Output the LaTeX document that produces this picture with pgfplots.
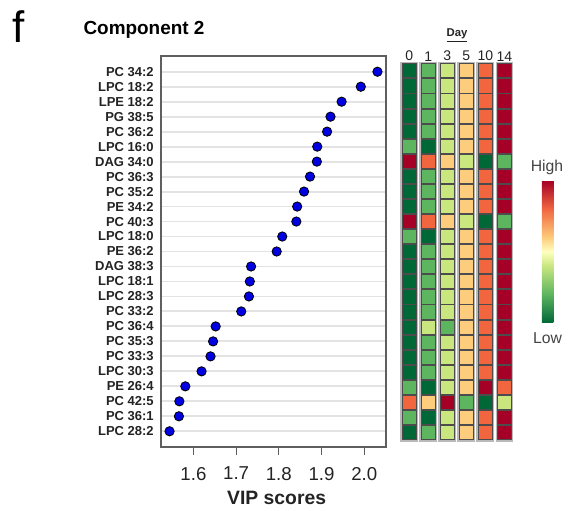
\documentclass[border=0pt]{standalone}
\usepackage{pgfplots}
\pgfplotsset{compat=1.18}
\usepackage{pgfplotstable}
\usepackage{fontspec}
\setmainfont{Liberation Sans}
\definecolor{framegray}{RGB}{95,95,95}
\definecolor{txt}{RGB}{35,35,35}
\definecolor{dotblue}{RGB}{0,0,225}

\pgfplotstableread{
y vip
1 2.031
2 1.992
3 1.947
4 1.921
5 1.913
6 1.890
7 1.889
8 1.873
9 1.859
10 1.843
11 1.841
12 1.808
13 1.795
14 1.735
15 1.732
16 1.730
17 1.712
18 1.652
19 1.646
20 1.640
21 1.619
22 1.581
23 1.567
24 1.566
25 1.544
}\vipdata

\pgfplotstableread{
row c0 c1 c2 c3 c4 c5
1 0 1 2 3 4 5
2 0 1 2 3 4 5
3 0 1 2 3 4 5
4 0 1 2 3 4 5
5 0 1 2 3 4 5
6 1 0 2 3 4 5
7 5 4 3 2 0 1
8 0 1 2 3 4 5
9 0 1 2 3 4 5
10 0 1 2 3 4 5
11 5 4 3 2 0 1
12 1 0 2 3 4 5
13 0 1 2 3 4 5
14 0 1 2 3 4 5
15 0 1 2 3 4 5
16 0 1 2 3 4 5
17 0 1 2 3 4 5
18 0 2 1 3 4 5
19 0 1 2 3 4 5
20 0 1 2 3 4 5
21 0 1 2 3 4 5
22 1 0 2 3 5 4
23 4 3 5 1 0 2
24 1 0 2 3 4 5
25 0 1 2 3 4 5
}\heat

\begin{document}
\begin{tikzpicture}
\path[use as bounding box] (0,0) rectangle (426.75pt,383.25pt);

% ---------------- VIP dot plot ----------------
\begin{axis}[
  at={(120.75pt,341.25pt)}, anchor=north west,
  scale only axis, width=168.75pt, height=293.25pt,
  xmin=1.524, xmax=2.051, ymin=-0.05, ymax=26.05, y dir=reverse,
  xtick={1.6,1.7,1.8,1.9,2.0},
  xticklabels={1.6,1.7,1.8,1.9,2.0},
  ytick={1,...,25},
  yticklabels={PC 34:2,LPC 18:2,LPE 18:2,PG 38:5,PC 36:2,LPC 16:0,DAG 34:0,PC 36:3,PC 35:2,PE 34:2,PC 40:3,LPC 18:0,PE 36:2,DAG 38:3,LPC 18:1,LPC 28:3,PC 33:2,PC 36:4,PC 35:3,PC 33:3,LPC 30:3,PE 26:4,PC 42:5,PC 36:1,LPC 28:2},
  xtick pos=lower, ytick pos=left, tick align=outside, major tick length=6pt,
  ytick style={draw=none},
  xtick style={draw=framegray, line width=0.9pt},
  axis line style={draw=framegray, line width=1pt},
  ymajorgrids, grid style={gray!22, line width=1.4pt},
  yticklabel style={font=\fontsize{9.75}{10}\selectfont\bfseries, text=txt, inner sep=0pt, xshift=0.75pt},
  xticklabel style={font=\fontsize{14}{15}\selectfont, text=txt, inner sep=0pt, yshift=-8.8pt},
  clip=false,
]
\addplot[only marks, mark=*, mark size=3.5pt,
  mark options={fill=dotblue, draw=black, line width=0.6pt}]
  table[x=vip, y=y]{\vipdata};
\end{axis}

% ---------------- heatmap ----------------
\begin{axis}[
  at={(299.8pt,335.8pt)}, anchor=north west,
  scale only axis, width=85.7pt, height=282.6pt,
  xmin=-0.5, xmax=5.5, ymin=0.5, ymax=25.5, y dir=reverse,
  axis line style={draw=none}, ytick=\empty,
  xtick={0,...,5}, xticklabels={0,1,3,5,10,14},
  xtick pos=upper, xticklabel pos=upper, major tick length=0pt,
  xtick style={draw=none},
  xticklabel style={font=\fontsize{10.5}{11}\selectfont, text=txt, inner sep=0pt, anchor=south, yshift=1.5pt},
  colormap={rdylgn}{rgb255(0cm)=(0,104,55); rgb255(1cm)=(93,181,96); rgb255(2cm)=(201,230,127); rgb255(2.5cm)=(255,255,191); rgb255(3cm)=(253,204,124); rgb255(4cm)=(241,102,63); rgb255(5cm)=(165,0,38)},
  point meta min=0, point meta max=5,
  colorbar,
  colorbar style={
    xshift=12.3pt, yshift=-88.05pt,
    scale only axis,
    width=8.7pt, height=106.5pt,
    ytick=\empty, xtick=\empty,
    axis line style={draw=none},
  },
  clip=false,
]
\pgfplotsinvokeforeach{0,...,5}{
  \draw[gray!55, line width=1.1pt] (axis cs:#1-0.433,0.45) rectangle (axis cs:#1+0.433,25.55);
}
\addplot[scatter, only marks, mark=square*, mark size=5.3pt, scatter src=explicit,
  scatter/use mapped color={draw=black!70, fill=mapped color}, mark options={line width=0.6pt}]
  table[x expr=0, y=row, meta=c0]{\heat};
\addplot[scatter, only marks, mark=square*, mark size=5.3pt, scatter src=explicit,
  scatter/use mapped color={draw=black!70, fill=mapped color}, mark options={line width=0.6pt}]
  table[x expr=1, y=row, meta=c1]{\heat};
\addplot[scatter, only marks, mark=square*, mark size=5.3pt, scatter src=explicit,
  scatter/use mapped color={draw=black!70, fill=mapped color}, mark options={line width=0.6pt}]
  table[x expr=2, y=row, meta=c2]{\heat};
\addplot[scatter, only marks, mark=square*, mark size=5.3pt, scatter src=explicit,
  scatter/use mapped color={draw=black!70, fill=mapped color}, mark options={line width=0.6pt}]
  table[x expr=3, y=row, meta=c3]{\heat};
\addplot[scatter, only marks, mark=square*, mark size=5.3pt, scatter src=explicit,
  scatter/use mapped color={draw=black!70, fill=mapped color}, mark options={line width=0.6pt}]
  table[x expr=4, y=row, meta=c4]{\heat};
\addplot[scatter, only marks, mark=square*, mark size=5.3pt, scatter src=explicit,
  scatter/use mapped color={draw=black!70, fill=mapped color}, mark options={line width=0.6pt}]
  table[x expr=5, y=row, meta=c5]{\heat};
\end{axis}

% ---------------- texts ----------------
\node[font=\fontsize{33}{36}\selectfont, text=black, inner sep=0pt] at (14.25pt,363pt) {f};
\node[font=\fontsize{14.2}{16}\selectfont\bfseries, text=black, anchor=base, inner sep=0pt] at (108pt,357pt) {Component 2};
\node[font=\fontsize{14.5}{16}\selectfont\bfseries, text=txt, anchor=base, inner sep=0pt] at (207.5pt,4.5pt) {VIP scores};
\node[font=\fontsize{8.5}{9}\selectfont\bfseries, text=txt, anchor=base, inner sep=0pt] at (342.75pt,355.5pt) {\underline{Day}};
\node[font=\fontsize{11.8}{13}\selectfont, text=txt!85, anchor=base, inner sep=0pt] at (410.25pt,254.5pt) {High};
\node[font=\fontsize{11.8}{13}\selectfont, text=txt!85, anchor=base, inner sep=0pt] at (410.6pt,125.75pt) {Low};
\end{tikzpicture}
\end{document}
